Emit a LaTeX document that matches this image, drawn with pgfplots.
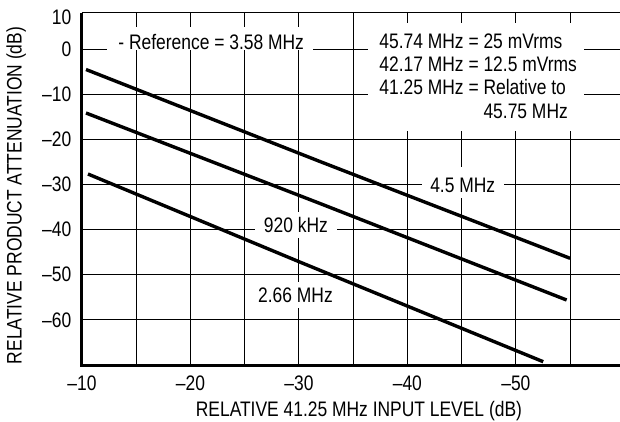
\documentclass[border=0pt]{standalone}
\usepackage{fontspec}
\setmainfont{Liberation Sans}[FakeStretch=0.83]
\usepackage{pgfplots}
\pgfplotsset{compat=1.18}
\begin{document}
\fontsize{21}{23.3}\selectfont
\begin{tikzpicture}
\useasboundingbox (-82pt,-57pt) rectangle (538pt,365pt);
\begin{axis}[
  at={(0,0)}, anchor=south west,
  width=538pt, height=352pt, scale only axis,
  x dir=reverse,
  xmin=-59.6, xmax=-10, ymin=-70, ymax=8,
  xtick={-10,-20,-30,-40,-50},
  xticklabels={–10,–20,–30,–40,–50},
  minor xtick={-15,-25,-35,-45,-55},
  ytick={-60,-50,-40,-30,-20,-10,0},
  yticklabels={–60,–50,–40,–30,–20,–10,0},
  extra y ticks={7}, extra y tick labels={10},
  extra y tick style={grid=none},
  grid=both,
  major grid style={line width=1pt, black},
  minor grid style={line width=1pt, black},
  major tick length=0pt, minor tick length=0pt,
  axis line style={draw=none},
  xticklabel style={inner ysep=0pt, yshift=-11pt},
  yticklabel style={inner xsep=0pt, xshift=-10.5pt},
  clip=false,
]
% white boxes behind labels
\fill[white] (axis cs:-12.28,4.96) rectangle (axis cs:-31.32,-0.2);
\fill[white] (axis cs:-36.36,5.78) rectangle (axis cs:-56.27,-18.15);
\fill[white] (axis cs:-41.31,-26.13) rectangle (axis cs:-48.89,-33.0);
\fill[white] (axis cs:-25.94,-36.03) rectangle (axis cs:-33.50,-41.86);
\fill[white] (axis cs:-25.67,-51.54) rectangle (axis cs:-33.69,-57.43);

% curves
\addplot[line width=3.4pt, black] coordinates {(-10.37,-4.52) (-31.93,-24.9) (-55,-46.36)};
\addplot[line width=3.4pt, black] coordinates {(-10.37,-14.16) (-31.93,-34.2) (-54.68,-55.6)};
\addplot[line width=3.4pt, black] coordinates {(-10.55,-27.68) (-30,-47.1) (-52.52,-69.27)};

% labels
\node[anchor=base west, inner sep=0pt] at (axis cs:-13.34,-0.04) {- Reference = 3.58 MHz};
\node[anchor=base west, inner sep=0pt] at (axis cs:-37.40,0.18) {45.74 MHz = 25 mVrms};
\node[anchor=base west, inner sep=0pt] at (axis cs:-37.40,-5.0) {42.17 MHz = 12.5 mVrms};
\node[anchor=base west, inner sep=0pt] at (axis cs:-37.40,-10.16) {41.25 MHz = Relative to};
\node[anchor=base west, inner sep=0pt] at (axis cs:-37.40,-15.32) {\phantom{41.25 MHz = }45.75 MHz};
\node[inner sep=0pt] at (axis cs:-45.1,-30.2) {4.5 MHz};
\node[inner sep=0pt] at (axis cs:-29.72,-38.87) {920 kHz};
\node[inner sep=0pt] at (axis cs:-29.68,-54.6) {2.66 MHz};

% axis titles
\node[anchor=base, inner sep=0pt, yshift=-51pt] at (axis cs:-35.53,-70) {RELATIVE 41.25 MHz INPUT LEVEL (dB)};
\node[anchor=base, inner sep=0pt, rotate=90] at ([xshift=-60.3pt]axis cs:-10,-32.44) {RELATIVE PRODUCT ATTENUATION (dB)};

% frame
\draw[line width=1pt, black] (rel axis cs:0,1) -- (rel axis cs:1,1);
\draw[line width=3pt, black] (rel axis cs:0,1) -- (rel axis cs:0,0) -- (rel axis cs:1,0);
\end{axis}
\end{tikzpicture}
\end{document}
